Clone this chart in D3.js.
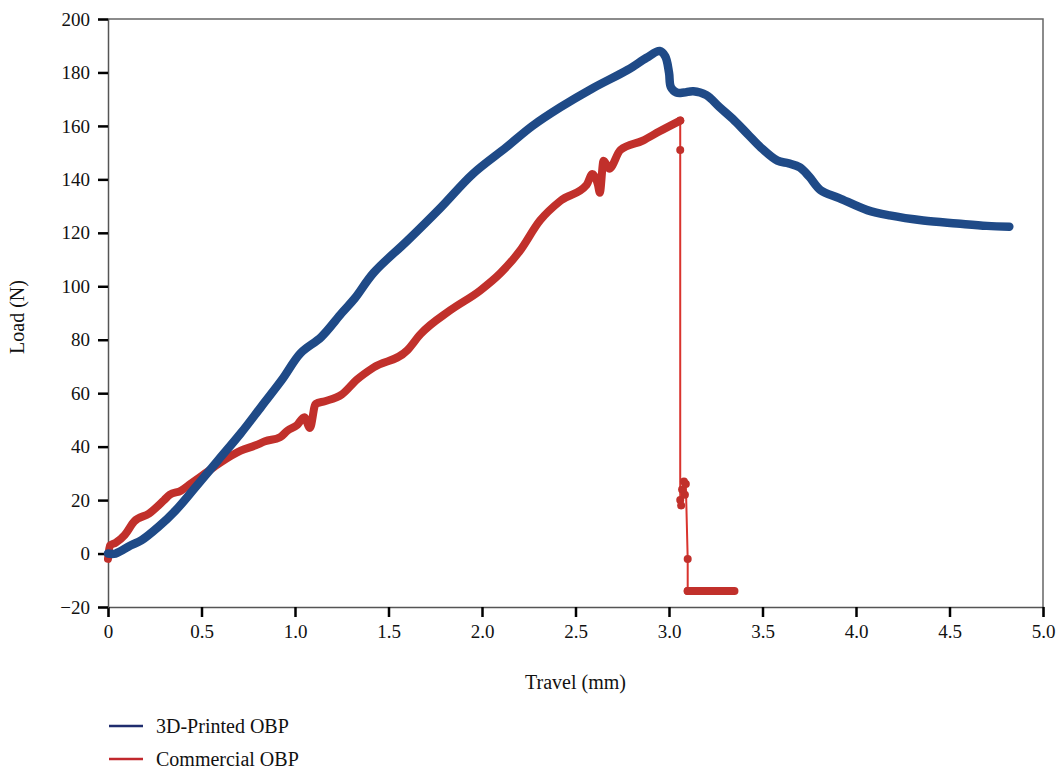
<!DOCTYPE html>
<html>
<head>
<meta charset="utf-8">
<script src="https://cdn.jsdelivr.net/npm/d3@7"></script>
<style>
  body { margin: 0; background: #fff; }
  text { font-family: "Liberation Serif", "DejaVu Serif", serif; }
</style>
</head>
<body>
<div id="chart"></div>
<script>
// Datos
const printedTravel = [0, 0.04, 0.12, 0.18, 0.27, 0.36, 0.47, 0.59, 0.71, 0.82, 0.93, 1.03, 1.14, 1.25, 1.32, 1.42, 1.6, 1.78, 1.95, 2.13, 2.27, 2.42, 2.59, 2.78, 2.88, 2.95, 2.98, 3.0, 3.01, 3.04, 3.08, 3.13, 3.2, 3.27, 3.35, 3.42, 3.49, 3.58, 3.64, 3.70, 3.75, 3.81, 3.91, 4.06, 4.18, 4.36, 4.54, 4.70, 4.82];
const printedLoad   = [0, 0, 3, 5, 10, 16, 25, 35, 45, 55, 65, 75, 81, 90, 95.5, 105, 117, 129.5, 142, 152, 160, 167, 174, 181, 185.5, 188, 186, 180, 174.5, 172.5, 172.5, 173, 171.5, 167, 162, 157, 152, 147, 146, 144.5, 141, 136, 133, 128.5, 126.5, 124.6, 123.5, 122.6, 122.3];

const commercialTravel = [0, 0.01, 0.04, 0.09, 0.14, 0.22, 0.30, 0.33, 0.39, 0.44, 0.52, 0.60, 0.71, 0.79, 0.84, 0.92, 0.96, 1.01, 1.05, 1.08, 1.11, 1.16, 1.25, 1.33, 1.42, 1.6, 1.67, 1.83, 1.99, 2.1, 2.2, 2.31, 2.42, 2.56, 2.59, 2.62, 2.63, 2.65, 2.68, 2.74, 2.86, 2.95, 3.06];
const commercialLoad   = [-2, 3, 4, 7, 12, 15, 20, 22, 23.5, 26, 30, 34, 38.5, 40.5, 42, 43.5, 46, 48, 51, 47, 56, 57, 59.5, 65, 69.6, 76, 82, 91, 98.4, 105, 113, 124.6, 132, 138, 142, 138, 135, 147, 144, 151, 154.5, 158, 162];

// Caída tras la rotura (puntos dispersos)
const dropTravel = [3.06, 3.06, 3.06, 3.065, 3.07, 3.08, 3.085, 3.09, 3.10, 3.10];
const dropLoad   = [162, 151, 20, 18, 24, 27, 22, 26, -2, -14];

const tailTravel = [3.10, 3.15, 3.2, 3.25, 3.3, 3.35];
const tailLoad   = [-14, -14, -14, -14, -14, -14];

const seriesNames = ["3D-Printed OBP", "Commercial OBP"];
const xTicks = [0, 0.5, 1.0, 1.5, 2.0, 2.5, 3.0, 3.5, 4.0, 4.5, 5.0];
const yTicks = [-20, 0, 20, 40, 60, 80, 100, 120, 140, 160, 180, 200];

const blue = "#1f4a87";
const red = "#c1302b";

const margin = { top: 19, left: 108 };
const width = 935;
const height = 588;

const svg = d3.select("#chart")
    .append("svg")
    .attr("width", 1058)
    .attr("height", 769);

const g = svg.append("g")
    .attr("transform", `translate(${margin.left}, ${margin.top})`);

const x = d3.scaleLinear().domain([0, 5]).range([0, width]);
const y = d3.scaleLinear().domain([-20, 200]).range([height, 0]);

// Marco superior y derecho
g.append("path")
    .attr("d", `M0,0H${width}V${height}`)
    .attr("fill", "none")
    .attr("stroke", "#666")
    .attr("stroke-width", 1.5);

const fmtX = d => d === 0 ? "0" : d.toFixed(1);
const fmtY = d => d < 0 ? "\u2212" + Math.abs(d) : String(d);

const xAxis = g.append("g")
    .attr("transform", `translate(0, ${height})`)
    .call(d3.axisBottom(x).tickValues(xTicks).tickFormat(fmtX).tickSize(10).tickPadding(8));

const yAxis = g.append("g")
    .call(d3.axisLeft(y).tickValues(yTicks).tickFormat(fmtY).tickSize(10).tickPadding(8));

[xAxis, yAxis].forEach(a => {
    a.select(".domain").attr("stroke", "#555").attr("stroke-width", 1.5);
    a.selectAll(".tick line").attr("stroke", "#000").attr("stroke-width", 2.5);
    a.selectAll(".tick text")
        .attr("font-family", "Liberation Serif, serif")
        .attr("font-size", 19)
        .attr("fill", "#111");
});

// Líneas de datos
const line = d3.line().x(d => x(d[0])).y(d => y(d[1]));
const zip = (a, b) => a.map((v, i) => [v, b[i]]);

const printed = zip(printedTravel, printedLoad);
const commercial = zip(commercialTravel, commercialLoad);
const drop = zip(dropTravel, dropLoad);
const tail = zip(tailTravel, tailLoad);

// Línea fina de la caída
g.append("path")
    .datum(drop.concat(tail))
    .attr("fill", "none")
    .attr("stroke", "#d9342e")
    .attr("stroke-width", 2)
    .attr("d", line);

g.append("path")
    .datum(commercial)
    .attr("fill", "none")
    .attr("stroke", red)
    .attr("stroke-width", 8)
    .attr("stroke-linejoin", "round")
    .attr("stroke-linecap", "round")
    .attr("d", d3.line().x(d => x(d[0])).y(d => y(d[1])).curve(d3.curveMonotoneX));

g.selectAll(".dropdot")
    .data(drop)
    .enter()
    .append("circle")
    .attr("class", "dropdot")
    .attr("cx", d => x(d[0]))
    .attr("cy", d => y(d[1]))
    .attr("r", 4)
    .attr("fill", red);

g.append("path")
    .datum(tail)
    .attr("fill", "none")
    .attr("stroke", red)
    .attr("stroke-width", 8)
    .attr("stroke-linecap", "round")
    .attr("d", line);

g.append("path")
    .datum(printed)
    .attr("fill", "none")
    .attr("stroke", blue)
    .attr("stroke-width", 8.5)
    .attr("stroke-linejoin", "round")
    .attr("stroke-linecap", "round")
    .attr("d", d3.line().x(d => x(d[0])).y(d => y(d[1])).curve(d3.curveCatmullRom));

// Títulos de ejes
svg.append("text")
    .attr("x", margin.left + width / 2)
    .attr("y", 689)
    .attr("text-anchor", "middle")
    .attr("font-size", 20)
    .attr("fill", "#111")
    .text("Travel (mm)");

svg.append("text")
    .attr("transform", "translate(24, 317) rotate(-90)")
    .attr("text-anchor", "middle")
    .attr("font-size", 20)
    .attr("fill", "#111")
    .text("Load (N)");

// Leyenda
const legend = svg.append("g").attr("transform", "translate(109, 726)");
seriesNames.forEach((name, i) => {
    const row = legend.append("g").attr("transform", `translate(0, ${i * 33})`);
    row.append("line")
        .attr("x1", 0).attr("x2", 34)
        .attr("stroke", i === 0 ? "#1f2d6e" : "#c1282d")
        .attr("stroke-width", 2.5);
    row.append("text")
        .attr("x", 47)
        .attr("dy", "0.33em")
        .attr("font-size", 20)
        .attr("fill", "#111")
        .text(name);
});
</script>
</body>
</html>
